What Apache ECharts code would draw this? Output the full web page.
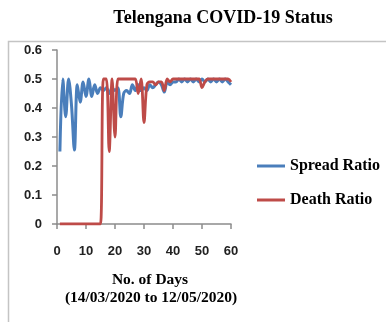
<!DOCTYPE html>
<html>
<head>
<meta charset="utf-8">
<script src="https://cdn.jsdelivr.net/npm/echarts@6/dist/echarts.min.js"></script>
<style>
  html, body { margin: 0; padding: 0; background: #fff; }
  #chart { width: 386px; height: 322px; }
</style>
</head>
<body>
<div id="chart"></div>
<script>
// Day number, 14/03/2020 = day 1
const days = [
  1, 2, 3, 4, 5, 6, 7, 8, 9, 10,
  11, 12, 13, 14, 15, 16, 17, 18, 19, 20,
  21, 22, 23, 24, 25, 26, 27, 28, 29, 30,
  31, 32, 33, 34, 35, 36, 37, 38, 39, 40,
  41, 42, 43, 44, 45, 46, 47, 48, 49, 50,
  51, 52, 53, 54, 55, 56, 57, 58, 59, 60
];

const spreadRatio = [
  0.25, 0.50, 0.37, 0.50, 0.41, 0.255, 0.48, 0.42, 0.49, 0.44,
  0.50, 0.44, 0.48, 0.45, 0.47, 0.46, 0.47, 0.45, 0.47, 0.46,
  0.47, 0.37, 0.45, 0.46, 0.45, 0.48, 0.46, 0.48, 0.46, 0.47,
  0.46, 0.48, 0.47, 0.48, 0.49, 0.48, 0.455, 0.49, 0.48, 0.49,
  0.49, 0.50, 0.49, 0.50, 0.49, 0.50, 0.49, 0.50, 0.49, 0.50,
  0.49, 0.50, 0.49, 0.50, 0.49, 0.50, 0.49, 0.50, 0.49, 0.48
];

const deathRatio = [
  0, 0, 0, 0, 0, 0, 0, 0, 0, 0,
  0, 0, 0, 0, 0, 0.50, 0.50, 0.25, 0.50, 0.30,
  0.50, 0.50, 0.50, 0.50, 0.50, 0.50, 0.50, 0.45, 0.50, 0.35,
  0.48, 0.49, 0.49, 0.48, 0.49, 0.49, 0.46, 0.50, 0.49, 0.50,
  0.50, 0.50, 0.50, 0.50, 0.50, 0.50, 0.50, 0.50, 0.50, 0.47,
  0.49, 0.50, 0.50, 0.50, 0.50, 0.50, 0.50, 0.50, 0.50, 0.49
];

const xTicks = { min: 0, max: 60, step: 10 };
const yTicks = { min: 0, max: 0.6, step: 0.1 };

const seriesNames = ['Spread Ratio', 'Death Ratio'];
const seriesColors = ['#4a7ebb', '#be4b48'];

const pairs = vals => days.map((d, i) => [d, vals[i]]);

const axisGray = '#8c8c8c';
const numFont = { fontFamily: 'Liberation Sans', fontWeight: 'bold', fontSize: 13, color: '#222' };
const serif = 'Liberation Serif';

const chart = echarts.init(document.getElementById('chart'), null, { renderer: 'canvas' });

chart.setOption({
  animation: false,
  backgroundColor: '#fff',
  title: {
    text: 'Telengana COVID-19 Status',
    left: 218,
    top: 4,
    textAlign: 'center',
    textStyle: { fontFamily: serif, fontWeight: 'bold', fontSize: 18, color: '#000' }
  },
  legend: {
    orient: 'vertical',
    left: 257,
    top: 158,
    padding: 0,
    itemGap: 18,
    itemWidth: 28,
    itemHeight: 3,
    icon: 'rect',
    data: seriesNames,
    textStyle: { fontFamily: serif, fontWeight: 'bold', fontSize: 16, lineHeight: 16, color: '#000' }
  },
  grid: { left: 57, right: 155, top: 50, bottom: 98, containLabel: false },
  xAxis: {
    type: 'value',
    min: xTicks.min, max: xTicks.max, interval: xTicks.step,
    axisLine: { lineStyle: { color: axisGray, width: 1.5 } },
    axisTick: { show: true, length: 5, lineStyle: { color: axisGray, width: 1.5 } },
    axisLabel: Object.assign({ margin: 21 }, numFont),
    splitLine: { show: false }
  },
  yAxis: {
    type: 'value',
    min: yTicks.min, max: yTicks.max, interval: yTicks.step,
    axisLine: { show: true, lineStyle: { color: axisGray, width: 1.5 } },
    axisTick: { show: true, length: 5, lineStyle: { color: axisGray, width: 1.5 } },
    axisLabel: Object.assign({ margin: 15 }, numFont),
    splitLine: { show: false }
  },
  graphic: [
    {
      type: 'rect',
      shape: { x: 8.5, y: 41.5, width: 420, height: 320 },
      style: { fill: 'none', stroke: '#c4c4c4', lineWidth: 1.5 },
      z: -1
    },
    {
      type: 'text',
      x: 150, y: 280,
      style: {
        text: 'No. of Days',
        textAlign: 'center',
        textVerticalAlign: 'middle',
        font: 'bold 15.5px "Liberation Serif"',
        fill: '#000'
      }
    },
    {
      type: 'text',
      x: 151, y: 298,
      style: {
        text: '(14/03/2020 to 12/05/2020)',
        textAlign: 'center',
        textVerticalAlign: 'middle',
        font: 'bold 15.5px "Liberation Serif"',
        fill: '#000'
      }
    }
  ],
  series: [
    {
      name: seriesNames[0],
      type: 'line',
      data: pairs(spreadRatio),
      smooth: 0.35,
      showSymbol: false,
      symbol: 'none',
      lineStyle: { color: seriesColors[0], width: 3 },
      itemStyle: { color: seriesColors[0] },
      z: 2
    },
    {
      name: seriesNames[1],
      type: 'line',
      data: pairs(deathRatio),
      smooth: 0.35,
      showSymbol: false,
      symbol: 'none',
      lineStyle: { color: seriesColors[1], width: 2.8 },
      itemStyle: { color: seriesColors[1] },
      z: 3
    }
  ]
});
</script>
</body>
</html>
